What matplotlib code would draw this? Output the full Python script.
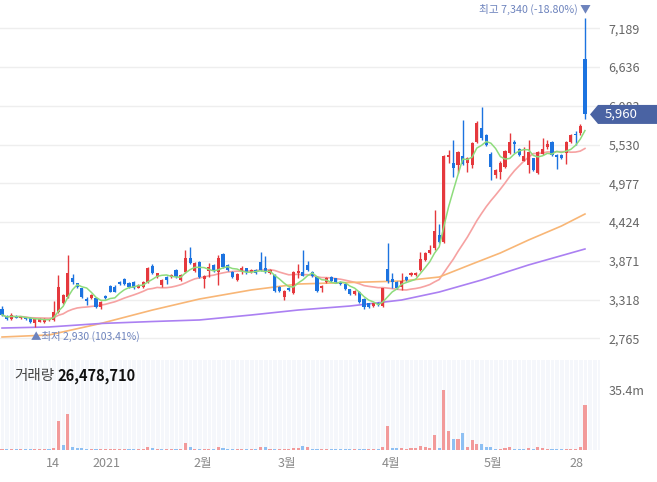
import matplotlib
matplotlib.use('Agg')
import matplotlib.pyplot as plt
from matplotlib.patches import Polygon, Rectangle
import matplotlib.transforms as mtransforms
import pandas as pd

plt.rcParams['font.family'] = ['Noto Sans CJK KR', 'DejaVu Sans']

# daily candles (KRW)
opens = [3179, 3084, 3037, 3084, 3060, 3065, 3060, 2988, 3003, 2998,
         3020, 3027, 3145, 3265, 3359, 3622, 3550, 3479, 3322, 3336,
         3336, 3206, 3369, 3512, 3503, 3573, 3607, 3550, 3573, 3488,
         3502, 3573, 3802, 3645, 3526, 3636, 3645, 3740, 3598, 3716,
         3907, 3726, 3859, 3607, 3726, 3812, 3717, 3969, 3812, 3716,
         3593, 3726, 3764, 3707, 3740, 3859, 3764, 3693, 3664, 3502,
         3360, 3488, 3407, 3702, 3716, 3812, 3707, 3645, 3479, 3574,
         3636, 3620, 3573, 3540, 3464, 3393, 3430, 3326, 3265, 3226,
         3265, 3226, 3759, 3607, 3573, 3502, 3636, 3669, 3669, 3740,
         3883, 3988, 4050, 4240, 4144, 5347, 5271, 5238, 5366, 5262,
         5238, 5571, 5762, 5666, 5400, 5096, 5143, 5205, 5405, 5571,
         5462, 5300, 5238, 5333, 5129, 5395, 5490, 5562, 5381, 5381,
         5405, 5571, 5680, 5695, 6750]
highs = [3230, 3100, 3127, 3095, 3090, 3075, 3070, 3050, 3050, 3050,
         3045, 3298, 3669, 3400, 3955, 3690, 3560, 3490, 3360, 3400,
         3350, 3300, 3380, 3530, 3520, 3590, 3620, 3565, 3590, 3540,
         3585, 3780, 3820, 3700, 3610, 3650, 3690, 3760, 3680, 4026,
         4073, 3850, 3870, 3665, 3840, 3830, 3950, 3980, 3830, 3730,
         3700, 3800, 3775, 3750, 3750, 4000, 3945, 3750, 3680, 3515,
         3450, 3495, 3730, 3830, 4026, 3870, 3720, 3660, 3530, 3645,
         3650, 3630, 3580, 3550, 3470, 3455, 3445, 3335, 3275, 3275,
         3280, 3490, 4130, 3700, 3590, 3700, 3650, 3710, 3710, 4000,
         4000, 4100, 4596, 4400, 5380, 5450, 5595, 5445, 5880, 5350,
         5560, 5860, 6070, 5680, 5420, 5180, 5290, 5450, 5700, 5590,
         5475, 5500, 5595, 5345, 5440, 5620, 5590, 5575, 5395, 5395,
         5575, 5680, 5720, 5830, 7340]
lows = [3090, 3030, 3027, 3050, 3045, 3030, 2985, 2930, 2995, 2980,
        3010, 3015, 3130, 3250, 3340, 3540, 3480, 3340, 3240, 3320,
        3200, 3190, 3330, 3420, 3420, 3530, 3530, 3490, 3470, 3480,
        3490, 3560, 3680, 3630, 3500, 3540, 3630, 3630, 3590, 3700,
        3820, 3710, 3630, 3480, 3640, 3710, 3526, 3770, 3730, 3630,
        3580, 3690, 3690, 3700, 3680, 3720, 3700, 3680, 3420, 3430,
        3312, 3440, 3395, 3630, 3650, 3730, 3640, 3430, 3420, 3560,
        3575, 3560, 3520, 3455, 3380, 3380, 3275, 3190, 3200, 3210,
        3230, 3215, 3560, 3480, 3470, 3450, 3590, 3660, 3650, 3730,
        3870, 3970, 4030, 4130, 4130, 5260, 5070, 5125, 5240, 5143,
        5200, 5550, 5600, 5510, 5025, 5050, 5040, 5190, 5390, 5414,
        5370, 5290, 5125, 5150, 5110, 5380, 5470, 5370, 5180, 5330,
        5250, 5550, 5520, 5660, 5900]
closes = [3102, 3037, 3098, 3060, 3084, 3037, 2998, 3041, 3041, 3041,
          3035, 3145, 3502, 3383, 3693, 3574, 3502, 3351, 3298, 3383,
          3216, 3290, 3345, 3431, 3431, 3540, 3540, 3502, 3479, 3526,
          3573, 3764, 3693, 3693, 3598, 3598, 3669, 3645, 3669, 3907,
          3835, 3835, 3645, 3650, 3779, 3726, 3917, 3779, 3740, 3645,
          3688, 3764, 3707, 3740, 3693, 3740, 3707, 3740, 3436, 3441,
          3441, 3455, 3716, 3726, 3660, 3740, 3650, 3441, 3517, 3631,
          3588, 3570, 3540, 3464, 3393, 3441, 3288, 3216, 3216, 3265,
          3241, 3479, 3578, 3573, 3479, 3578, 3598, 3693, 3693, 3893,
          3988, 4026, 4301, 4144, 5366, 5380, 5191, 5428, 5252, 5333,
          5548, 5842, 5619, 5524, 5214, 5167, 5271, 5438, 5571, 5534,
          5381, 5366, 5428, 5167, 5428, 5462, 5538, 5381, 5357, 5343,
          5562, 5666, 5666, 5795, 5960]
# volume in millions of shares
volumes = [0.6, 0.6, 0.6, 0.6, 0.6, 0.6, 0.6, 0.6, 0.6, 0.6,
           0.6, 1.2, 16.9, 3.0, 21.5, 1.5, 1.2, 1.2, 0.6, 0.6,
           0.6, 0.6, 0.6, 0.6, 0.8, 0.8, 0.6, 0.6, 0.6, 0.6,
           0.6, 2.0, 0.9, 0.6, 0.6, 0.6, 0.6, 0.6, 0.6, 4.2,
           1.5, 0.6, 0.6, 0.6, 0.6, 0.6, 2.0, 1.0, 0.6, 0.6,
           0.6, 0.6, 0.6, 0.6, 0.6, 1.5, 1.8, 0.6, 0.6, 0.6,
           0.6, 0.6, 1.0, 1.0, 2.6, 2.0, 0.6, 0.6, 0.6, 0.6,
           0.6, 0.6, 0.6, 0.6, 0.6, 0.6, 0.6, 0.6, 0.6, 0.6,
           0.6, 1.5, 14.3, 0.9, 0.9, 0.9, 0.6, 0.9, 0.9, 2.6,
           1.5, 1.0, 9.0, 0.9, 35.4, 11.4, 6.6, 6.6, 10.2, 1.5,
           6.0, 3.6, 3.6, 1.5, 1.5, 0.6, 0.6, 0.9, 1.5, 0.6,
           0.6, 0.6, 0.9, 0.6, 2.0, 1.0, 0.6, 0.6, 0.6, 0.6,
           0.8, 0.8, 0.8, 1.5, 26.48]
last_volume = 26478710

# long moving averages
ma60_idx = [0, 10, 21, 32, 42, 53, 63, 74, 85, 93, 100, 106, 112, 119, 124]
ma60_val = [2784, 2813, 2977, 3169, 3326, 3455, 3540, 3562, 3583, 3640,
            3826, 3983, 4168, 4368, 4539]
ma120_idx = [0, 10, 21, 32, 42, 53, 63, 74, 85, 93, 102, 112, 124]
ma120_val = [2912, 2927, 2977, 3005, 3027, 3098, 3169, 3226, 3312, 3426,
             3597, 3812, 4040]

price_ticks = [2765, 3318, 3871, 4424, 4977, 5530, 6083, 6636, 7189]
date_labels = ['14', '2021', '2월', '3월', '4월', '5월', '28']
date_pos = [10.9, 22.3, 42.6, 60.6, 82.8, 104.5, 122.3]

UP, DOWN = '#e5383d', '#1c73e0'
VUP, VDOWN = '#f29a9a', '#8ec0f3'

W, H = 657, 482
fig = plt.figure(figsize=(W / 100, H / 100), dpi=100)
ax = fig.add_axes([0, 1 - 352 / H, 600 / W, 352 / H])
axv = fig.add_axes([0, 1 - 450 / H, 600 / W, 90 / H])

n = len(closes)
xlim = (-0.43, 127.2)

# price panel
for i in range(n):
    o, h, l, c = opens[i], highs[i], lows[i], closes[i]
    col = UP if c >= o else DOWN
    ax.vlines(i, l, h, color=col, lw=1, zorder=3)
    ax.add_patch(Rectangle((i - 0.33, min(o, c)), 0.66, max(abs(c - o), 12),
                           color=col, lw=0, zorder=3))

s = pd.Series(closes)
ax.plot(range(n), s.rolling(5, min_periods=1).mean(), color='#8edc7c', lw=1.1, zorder=4)
ax.plot(range(n), s.rolling(20, min_periods=1).mean(), color='#f6a2a2', lw=1.2, zorder=2)
ax.plot(ma60_idx, ma60_val, color='#f8b676', lw=1.2, zorder=2)
ax.plot(ma120_idx, ma120_val, color='#ab80f2', lw=1.2, zorder=2)

ax.set_xlim(*xlim)
ax.set_ylim(2570, 7593)
ax.set_yticks(price_ticks)
ax.set_yticklabels([f'{v:,}' for v in price_ticks])
ax.yaxis.tick_right()
ax.tick_params(axis='y', length=0, pad=6, labelsize=9, labelcolor='#666666')
ax.set_xticks([])
ax.grid(axis='y', color='#eeeeee', lw=1)
ax.set_axisbelow(True)
for sp in ax.spines.values():
    sp.set_visible(False)

hi_i = highs.index(max(highs))
lo_i = lows.index(min(lows))
last = closes[-1]
ann_col = '#6d83bd'
ax.annotate(f'최고 {max(highs):,} ({(last / max(highs) - 1) * 100:.2f}%) ▼',
            (hi_i, max(highs)), xytext=(4, 2), textcoords='offset points',
            ha='right', va='bottom', fontsize=7.7, color=ann_col)
ax.annotate(f'▲최저 {min(lows):,} ({(last / min(lows) - 1) * 100:.2f}%)',
            (lo_i, min(lows)), xytext=(-3, -3), textcoords='offset points',
            ha='left', va='top', fontsize=7.5, color=ann_col)

# current price tag
tr = mtransforms.blended_transform_factory(ax.transAxes, ax.transData)
dh = 9.5 * 14.27
tag = Polygon([(590 / 600, last), (598 / 600, last + dh), (1.1, last + dh),
               (1.1, last - dh), (598 / 600, last - dh)], closed=True,
              transform=tr, fc='#4a63a3', ec='none', clip_on=False, zorder=10)
ax.add_patch(tag)
ax.text(1.035, last, f'{last:,}', transform=tr, ha='center', va='center',
        fontsize=9.5, color='white', zorder=11, clip_on=False)

# volume panel
axv.set_facecolor('#f5f7fb')
axv.vlines([i + 0.5 for i in range(-1, n + 2)], 0, 60, color='white', lw=0.8, zorder=1)
vcols = [VUP if i == 0 or closes[i] >= closes[i - 1] else VDOWN for i in range(n)]
axv.bar(range(n), volumes, width=0.66, color=vcols, zorder=3)
axv.set_xlim(*xlim)
axv.set_ylim(0, 53.1)
axv.set_yticks([35.4])
axv.set_yticklabels(['35.4m'])
axv.yaxis.tick_right()
axv.tick_params(axis='y', length=0, pad=6, labelsize=9, labelcolor='#666666')
axv.set_xticks(date_pos)
axv.set_xticklabels(date_labels)
axv.tick_params(axis='x', length=0, pad=5, labelsize=9, labelcolor='#888888')
for sp in axv.spines.values():
    sp.set_visible(False)

fig.text(14 / W, 1 - 376 / H, '거래량', fontsize=10.5, color='#444444', va='center')
fig.text(57 / W, 1 - 376 / H, f'{last_volume:,}',
         fontsize=10.5, color='#111111', fontweight='bold', va='center')

fig.savefig('out.png', dpi=100)
